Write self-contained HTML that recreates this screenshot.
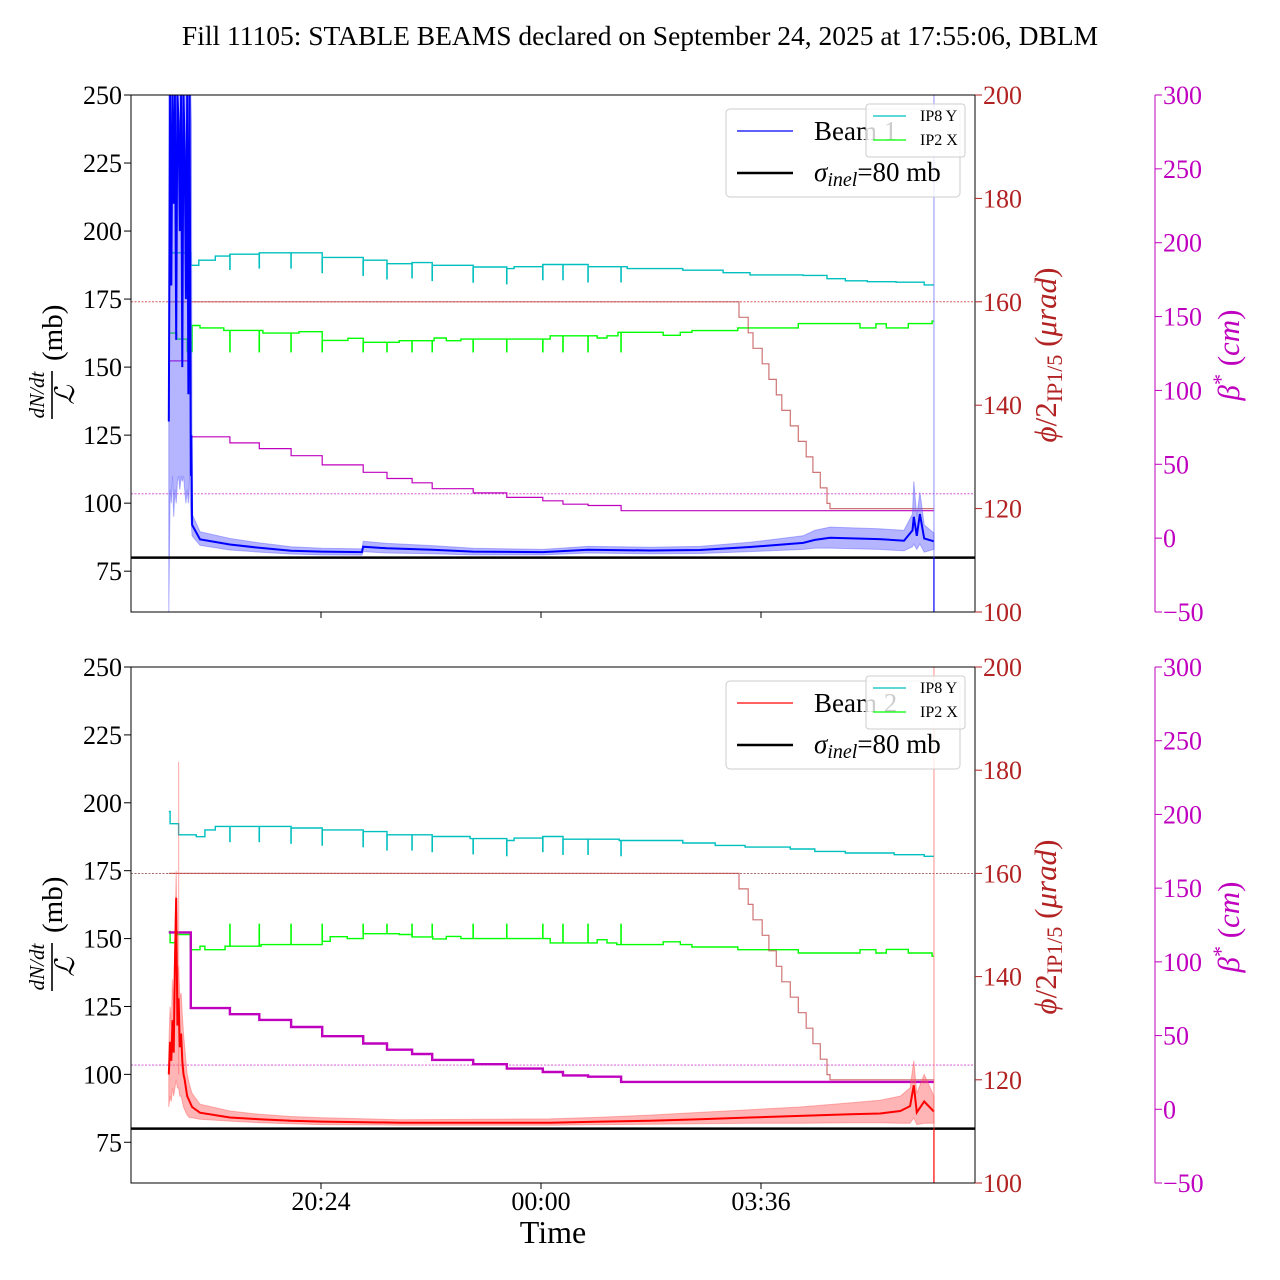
<!DOCTYPE html>
<html><head><meta charset="utf-8"><title>Fill 11105 DBLM</title>
<style>
html,body{margin:0;padding:0;background:#fff;}
svg{display:block;font-family:"Liberation Serif","DejaVu Serif",serif;}
</style></head>
<body>
<svg id="chart" width="1280" height="1280" viewBox="0 0 1280 1280" xmlns="http://www.w3.org/2000/svg">
<defs>
<clipPath id="clipTop"><rect x="131" y="95" width="844" height="517"/></clipPath>
<clipPath id="clipBot"><rect x="131" y="667" width="844" height="516"/></clipPath>
</defs>
<text x="640" y="45" font-size="27.5" text-anchor="middle">Fill 11105: STABLE BEAMS declared on September 24, 2025 at 17:55:06, DBLM</text>
<g id="panels"></g>
<text x="553" y="1243" font-size="32" text-anchor="middle">Time</text>
</svg>
<script>
// ---- data (time in hours since 00:00 of Sep 24; >24 = next day) ----
const xTickHours = [20.4, 24.0, 27.6];
const xTickLabels = ["20:24", "00:00", "03:36"];
const leftTicks = [75, 100, 125, 150, 175, 200, 225, 250];
const redTicks = [100, 120, 140, 160, 180, 200];
const magTicks = [-50, 0, 50, 100, 150, 200, 250, 300];
const sigmaInel = 80;
const phiRef = 160;
const betaRef = 30;
const tEnd = 30.43;

const betaT = [17.91, 18.27, 18.91, 19.39, 19.91, 20.42, 21.09, 21.48, 21.89, 22.22, 22.89, 23.44, 24.03, 24.36, 24.77, 25.31];
const betaV = [120, 68.6, 64.5, 60.6, 55.8, 49.6, 44.6, 40.4, 37.5, 33.5, 30.6, 27.6, 25.3, 23.0, 22.1, 18.6];

const phiT = [17.91, 27.24, 27.39, 27.47, 27.62, 27.73, 27.85, 27.94, 28.08, 28.21, 28.34, 28.45, 28.57, 28.68, 28.73];
const phiV = [160, 157, 154, 151, 148, 145, 142, 139, 136, 133, 130, 127, 124, 121, 120];

const spikeT = [18.91, 19.39, 19.91, 20.42, 21.09, 21.48, 21.89, 22.22, 22.89, 23.44, 24.03, 24.36, 24.77, 25.31];

const cyanTopT = [17.91, 17.93, 18.27, 18.40, 18.67, 18.91, 19.39, 20.42, 21.09, 21.48, 21.89, 22.22, 22.89, 23.44, 23.56, 24.03, 24.77, 25.41, 26.32, 26.98, 27.42, 28.29, 28.68, 28.98, 29.34, 29.81, 30.27];
const cyanTopV = [196.8, 192.0, 187.4, 189.3, 190.8, 191.5, 192.0, 190.3, 189.3, 188.0, 188.4, 187.4, 186.8, 186.2, 186.9, 187.7, 186.9, 186.2, 185.6, 184.7, 183.9, 183.7, 182.5, 181.7, 181.4, 181.2, 180.2];

const greenTopT = [17.91, 18.04, 18.21, 18.29, 18.42, 18.81, 19.45, 20.04, 20.42, 20.84, 21.09, 21.68, 22.25, 22.45, 22.69, 24.15, 24.92, 25.08, 25.26, 26.00, 26.28, 26.47, 27.22, 28.21, 29.22, 29.48, 29.65, 30.01, 30.40];
const greenTopV = [162.5, 160.3, 155.7, 165.3, 164.4, 163.5, 162.5, 163.0, 159.8, 160.6, 159.1, 159.7, 160.7, 159.7, 160.3, 161.5, 160.7, 161.5, 162.8, 161.7, 162.8, 163.4, 164.4, 166.0, 164.4, 165.9, 164.4, 166.0, 166.9];

const cyanBotT = [17.91, 17.93, 18.07, 18.36, 18.50, 18.67, 19.91, 20.42, 21.09, 21.48, 22.22, 22.84, 23.44, 23.56, 24.03, 24.36, 25.28, 26.32, 26.85, 27.34, 28.08, 28.48, 28.98, 29.78, 30.27];
const cyanBotV = [196.8, 192.3, 188.2, 187.5, 190.0, 191.3, 190.7, 190.0, 189.4, 188.2, 187.6, 186.8, 186.1, 187.0, 187.6, 186.6, 186.1, 185.2, 184.3, 183.7, 183.0, 182.1, 181.5, 180.9, 180.3];

const greenBotT = [17.91, 17.93, 18.04, 18.26, 18.42, 18.50, 18.83, 19.42, 20.42, 20.55, 20.83, 21.09, 21.68, 21.89, 22.23, 22.45, 22.69, 24.15, 24.92, 25.08, 25.24, 26.00, 26.28, 26.47, 27.22, 28.21, 29.22, 29.48, 29.65, 30.01, 30.40];
const greenBotV = [152.6, 148.5, 151.5, 145.9, 147.2, 145.9, 147.2, 147.8, 149.0, 150.7, 150.0, 151.8, 151.5, 150.6, 149.9, 150.8, 150.0, 148.4, 149.6, 148.4, 147.8, 148.8, 147.8, 146.9, 145.9, 144.7, 145.9, 144.7, 146.0, 144.7, 143.5];

const beam1T = [17.91, 17.93, 17.95, 17.97, 17.99, 18.01, 18.03, 18.05, 18.07, 18.09, 18.11, 18.13, 18.15, 18.17, 18.19, 18.21, 18.23, 18.25, 18.27, 18.28, 18.29, 18.42, 18.91, 19.39, 19.91, 20.42, 21.07, 21.09, 21.48, 22.22, 22.89, 24.03, 24.77, 25.78, 26.60, 27.42, 28.29, 28.48, 28.73, 29.53, 29.94, 30.08, 30.10, 30.15, 30.20, 30.27, 30.43];
const beam1V = [130, 250, 180, 250, 210, 250, 160, 250, 240, 200, 250, 150, 250, 230, 175, 250, 140, 250, 110, 125, 92, 86.7, 84.8, 83.6, 82.5, 82.2, 82.0, 84.0, 83.4, 82.9, 82.2, 82.0, 82.9, 82.6, 82.8, 83.9, 85.4, 86.5, 87.3, 86.8, 86.2, 90, 95, 88, 96, 87, 86];
const beam1Lo = [60, 105, 100, 110, 95, 105, 100, 108, 110, 105, 110, 108, 110, 105, 100, 105, 100, 110, 95, 92, 88, 84.5, 82.8, 82.0, 81.3, 81.0, 80.9, 82.2, 81.7, 81.4, 81.0, 81.0, 81.7, 81.4, 81.5, 82.2, 83.0, 83.5, 83.5, 83.0, 82.5, 84, 85, 83, 85, 82, 83];
const beam1Hi = [250, 250, 250, 250, 250, 250, 250, 250, 250, 250, 250, 250, 250, 250, 250, 250, 250, 250, 250, 240, 96, 89.5, 87.0, 85.4, 84.0, 83.4, 83.2, 86.0, 85.2, 84.4, 83.4, 83.0, 84.1, 83.8, 84.1, 85.6, 88.0, 90.0, 91.2, 90.6, 90.0, 96, 108, 95, 104, 92, 89];

const beam2T = [17.91, 17.93, 17.95, 17.97, 17.99, 18.01, 18.03, 18.05, 18.07, 18.09, 18.11, 18.13, 18.15, 18.17, 18.19, 18.21, 18.25, 18.29, 18.42, 18.91, 19.39, 19.91, 20.42, 21.7, 24.15, 24.97, 25.78, 26.60, 27.42, 28.24, 29.06, 29.55, 29.88, 30.04, 30.10, 30.15, 30.27, 30.43];
const beam2V = [100, 112, 105, 120, 108, 140, 165, 118, 128, 110, 115, 105, 100, 98, 95, 92, 90, 88, 85.9, 84.1, 83.5, 82.9, 82.6, 82.2, 82.2, 82.6, 82.9, 83.5, 84.1, 84.7, 85.3, 85.6, 86.5, 88.3, 96, 86, 90, 86.3];
const beam2Lo = [88, 92, 90, 95, 92, 95, 98, 95, 95, 92, 92, 90, 88, 87, 86, 85, 84, 84, 83.5, 82.8, 82.2, 81.8, 81.5, 81.3, 81.3, 81.5, 81.6, 81.8, 82.0, 82.0, 82.2, 82.2, 82.0, 82.0, 84, 81.5, 82, 82];
const beam2Hi = [110, 125, 118, 135, 125, 150, 175, 135, 140, 128, 130, 122, 115, 110, 105, 100, 96, 93, 89.0, 86.5, 85.3, 84.5, 84.0, 83.3, 83.6, 84.2, 85.0, 86.0, 87.0, 88.0, 89.5, 90.5, 92.0, 95, 105, 93, 100, 92];
const beam2SpikeT = [18.07];
const beam2SpikeV = [215];

// ---- helpers ----
const NS = "http://www.w3.org/2000/svg";
const panelsG = document.getElementById("panels");
function xs(t) { return 321 + (t - 20.4) * 61.11; }
function mk(tag, attrs, parent) {
  const e = document.createElementNS(NS, tag);
  for (const k in attrs) e.setAttribute(k, attrs[k]);
  parent.appendChild(e);
  return e;
}
function stepPath(T, V, yf) {
  let d = "M" + xs(T[0]).toFixed(1) + " " + yf(V[0]).toFixed(1);
  for (let i = 1; i < T.length; i++) {
    d += " H" + xs(T[i]).toFixed(1) + " V" + yf(V[i]).toFixed(1);
  }
  d += " H" + xs(tEnd).toFixed(1);
  return d;
}
function linePath(T, V, yf) {
  return T.map((t, i) => (i ? "L" : "M") + xs(t).toFixed(1) + " " + yf(V[i]).toFixed(1)).join(" ");
}
function bandPath(T, lo, hi, yf) {
  let d = T.map((t, i) => (i ? "L" : "M") + xs(t).toFixed(1) + " " + yf(hi[i]).toFixed(1)).join(" ");
  for (let i = T.length - 1; i >= 0; i--) d += " L" + xs(T[i]).toFixed(1) + " " + yf(lo[i]).toFixed(1);
  return d + " Z";
}
function stepVal(T, V, t) {
  let v = V[0];
  for (let i = 0; i < T.length; i++) if (T[i] <= t + 1e-6) v = V[i];
  return v;
}

function drawPanel(cfg) {
  const y0 = cfg.y0, H = cfg.h;
  const yL = v => y0 + (250 - v) / 190 * H;
  const yR = v => y0 + (200 - v) / 100 * H;
  const yM = v => y0 + (300 - v) / 350 * H;
  const g = mk("g", {}, panelsG);
  
  
  const plot = mk("g", { "clip-path": "url(#" + cfg.clip + ")" }, g);

  const ph = mk("line", { x1: 131, x2: 975, y1: yR(phiRef), y2: yR(phiRef), stroke: cfg.beam === 1 ? "#d04040" : "#8b3a3a", "stroke-width": 0.8, "stroke-dasharray": "2,1.5" }, plot);
  
  
  const br = mk("line", { x1: 131, x2: 975, y1: yM(betaRef), y2: yM(betaRef), stroke: "#d040d0", "stroke-width": 0.8, "stroke-dasharray": "2,1.5" }, plot);
  
  

  const cy = mk("path", { d: stepPath(cfg.cyanT, cfg.cyanV, yL), fill: "none", stroke: "#00bfbf", "stroke-width": 1.4 }, plot);
  
  
  const gr = mk("path", { d: stepPath(cfg.greenT, cfg.greenV, yL), fill: "none", stroke: "#00ff00", "stroke-width": 1.4 }, plot);
  
  
  spikeT.forEach(t => {
    const cv = stepVal(cfg.cyanT, cfg.cyanV, t);
    const s1 = mk("line", { x1: xs(t), x2: xs(t), y1: yL(cv), y2: yL(cv - 5.8), stroke: "#00bfbf", "stroke-width": 1.6 }, plot);
    
    
    const gv = stepVal(cfg.greenT, cfg.greenV, t);
    const s2 = mk("line", { x1: xs(t), x2: xs(t), y1: yL(gv), y2: yL(cfg.greenSpike), stroke: "#00ff00", "stroke-width": 1.6 }, plot);
    
    
  });

  const pl = mk("path", { d: stepPath(phiT, phiV, yR), fill: "none", stroke: "rgba(190,70,70,0.75)", "stroke-width": 1.2 }, plot);
  
  
  const bl = mk("path", { d: stepPath(betaT, betaV, yM), fill: "none", stroke: "#bf00bf", "stroke-width": cfg.beam === 1 ? 1.2 : 2.4 }, plot);
  
  

  const band = mk("path", { d: bandPath(cfg.bT, cfg.bLo, cfg.bHi, yL), fill: cfg.bandColor, stroke: cfg.bandColor, "stroke-width": 1 }, plot);
  
  
  cfg.spT.forEach((t, i) => {
    const sp = mk("line", { x1: xs(t), x2: xs(t), y1: yL(cfg.bV[0]), y2: yL(cfg.spV[i]), stroke: cfg.bandColor, "stroke-width": 1.2 }, plot);
    
    
  });
  const med = mk("path", { d: linePath(cfg.bT, cfg.bV, yL), fill: "none", stroke: cfg.color, "stroke-width": 2 }, plot);
  
  

  const sl = mk("line", { x1: 131, x2: 975, y1: yL(sigmaInel), y2: yL(sigmaInel), stroke: "#000", "stroke-width": 2.5 }, plot);
  
  

  const xe = xs(tEnd);
  const ve1 = mk("line", { x1: xe, x2: xe, y1: y0, y2: yL(sigmaInel), stroke: cfg.bandColor, "stroke-width": 1.5 }, g);
  
  
  const ve2 = mk("line", { x1: xe, x2: xe, y1: yL(sigmaInel), y2: y0 + H, stroke: cfg.color, "stroke-width": 1.2 }, g);
  
  

  const fr = mk("rect", { x: 131, y: y0, width: 844, height: H, fill: "none", stroke: "#000", "stroke-width": 1 }, g);
  
  

  leftTicks.forEach(v => {
    const tk = mk("line", { x1: 124, x2: 131, y1: yL(v), y2: yL(v), stroke: "#000", "stroke-width": 1 }, g);
    
    
    const tl = mk("text", { x: 122, y: yL(v) + 9, "font-size": 26, "text-anchor": "end" }, g);
    tl.textContent = v;
    
    
  });
  redTicks.forEach(v => {
    const tk = mk("line", { x1: 975, x2: 982, y1: yR(v), y2: yR(v), stroke: "#b22222", "stroke-width": 1 }, g);
    
    
    const tl = mk("text", { x: 983, y: yR(v) + 9, "font-size": 26, fill: "#b22222" }, g);
    tl.textContent = v;
    
    
  });
  const ms = mk("line", { x1: 1155, x2: 1155, y1: y0, y2: y0 + H, stroke: "#bf00bf", "stroke-width": 1 }, g);
  
  
  magTicks.forEach(v => {
    const tk = mk("line", { x1: 1155, x2: 1162, y1: yM(v), y2: yM(v), stroke: "#bf00bf", "stroke-width": 1 }, g);
    
    
    const tl = mk("text", { x: 1163, y: yM(v) + 9, "font-size": 26, fill: "#bf00bf" }, g);
    tl.textContent = (v < 0 ? "\u2212" + (-v) : v);
    
    
  });
  xTickHours.forEach((t, i) => {
    const tk = mk("line", { x1: xs(t), x2: xs(t), y1: y0 + H, y2: y0 + H + 6, stroke: "#000", "stroke-width": 1 }, g);
    
    
    if (cfg.beam === 2) {
      const tl = mk("text", { x: xs(t), y: y0 + H + 27, "font-size": 26, "text-anchor": "middle" }, g);
      tl.textContent = xTickLabels[i];
      
      
    }
  });

  // left y label
  const cyl = y0 + 260;
  const lab = mk("g", { transform: "translate(52," + cyl + ") rotate(-90)" }, g);
  
  
  const t1 = mk("text", { x: -40, y: -8, "font-size": 21, "font-style": "italic", "text-anchor": "middle" }, lab);
  t1.textContent = "dN/dt";
  mk("line", { x1: -64, x2: -16, y1: 0, y2: 0, stroke: "#000", "stroke-width": 1.6 }, lab);
  const t2 = mk("text", { x: -40, y: 22, "font-size": 27, "font-style": "italic", "text-anchor": "middle" }, lab);
  t2.textContent = "\u2112";
  const t3 = mk("text", { x: -6, y: 10, "font-size": 29 }, lab);
  t3.textContent = "(mb)";

  const rl = mk("text", { transform: "translate(1056," + (y0 + 260) + ") rotate(-90)", "font-size": 31, fill: "#b22222", "text-anchor": "middle" }, g);
  
  
  rl.innerHTML = '<tspan font-style="italic">\u03d5</tspan>/2<tspan font-size="22" dy="6">IP1/5</tspan><tspan dy="-6"> (</tspan><tspan font-style="italic">\u03bcrad</tspan>)';
  const ml = mk("text", { transform: "translate(1239," + (y0 + 260) + ") rotate(-90)", "font-size": 31, fill: "#bf00bf", "text-anchor": "middle" }, g);
  
  
  ml.innerHTML = '<tspan font-style="italic">\u03b2</tspan><tspan font-size="22" dy="-11">*</tspan><tspan dy="11"> (</tspan><tspan font-style="italic">cm</tspan>)';

  const lg = mk("g", {}, g);
  
  
  mk("rect", { x: 726, y: y0 + 14, width: 234, height: 88, rx: 4, fill: "rgba(255,255,255,0.8)", stroke: "#ccc", "stroke-width": 1 }, lg);
  mk("line", { x1: 737, x2: 793, y1: y0 + 36, y2: y0 + 36, stroke: cfg.color, "stroke-width": 1.2 }, lg);
  const lt1 = mk("text", { x: 814, y: y0 + 45, "font-size": 27 }, lg);
  lt1.textContent = "Beam " + cfg.beam;
  
  
  mk("line", { x1: 737, x2: 793, y1: y0 + 78, y2: y0 + 78, stroke: "#000", "stroke-width": 2.5 }, lg);
  const lt2 = mk("text", { x: 814, y: y0 + 86, "font-size": 27 }, lg);
  lt2.innerHTML = '<tspan font-style="italic">\u03c3</tspan><tspan font-style="italic" font-size="20" dy="5">inel</tspan><tspan dy="-5">=80 mb</tspan>';
  
  
  const lg2 = mk("g", {}, g);
  
  
  mk("rect", { x: 866, y: y0 + 9, width: 99, height: 53, rx: 3, fill: "rgba(255,255,255,0.8)", stroke: "#ccc", "stroke-width": 1 }, lg2);
  mk("line", { x1: 873, x2: 906, y1: y0 + 21, y2: y0 + 21, stroke: "#00bfbf", "stroke-width": 1.2 }, lg2);
  const l3 = mk("text", { x: 920, y: y0 + 26, "font-size": 16 }, lg2);
  l3.textContent = "IP8 Y";
  
  
  mk("line", { x1: 873, x2: 906, y1: y0 + 45, y2: y0 + 45, stroke: "#00ff00", "stroke-width": 1.2 }, lg2);
  const l4 = mk("text", { x: 920, y: y0 + 50, "font-size": 16 }, lg2);
  l4.textContent = "IP2 X";
  
  
}

drawPanel({ name: "beam-1-panel", beam: 1, y0: 95, h: 517, clip: "clipTop",
  cyanT: cyanTopT, cyanV: cyanTopV, greenT: greenTopT, greenV: greenTopV, greenSpike: 155.4,
  bT: beam1T, bV: beam1V, bLo: beam1Lo, bHi: beam1Hi, spT: [], spV: [],
  color: "#0000ff", bandColor: "rgba(90,90,255,0.45)" });
drawPanel({ name: "beam-2-panel", beam: 2, y0: 667, h: 516, clip: "clipBot",
  cyanT: cyanBotT, cyanV: cyanBotV, greenT: greenBotT, greenV: greenBotV, greenSpike: 155.5,
  bT: beam2T, bV: beam2V, bLo: beam2Lo, bHi: beam2Hi, spT: beam2SpikeT, spV: beam2SpikeV,
  color: "#ff0000", bandColor: "rgba(255,90,90,0.45)" });
</script>
</body></html>
